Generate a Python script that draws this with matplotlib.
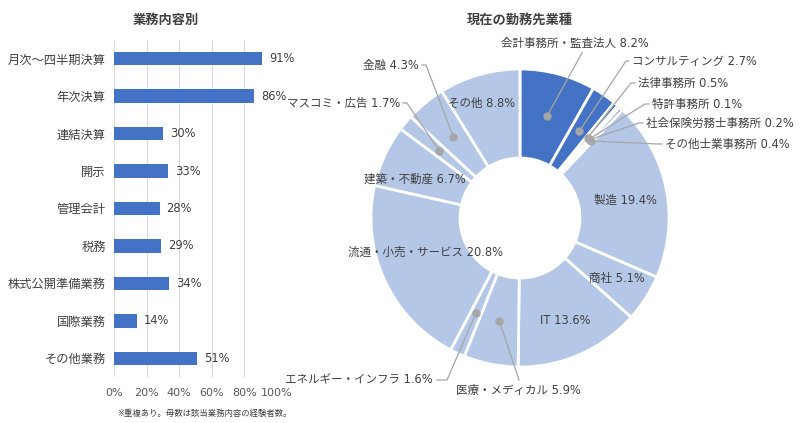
import matplotlib
matplotlib.use("Agg")
import matplotlib.pyplot as plt
import numpy as np

plt.rcParams['font.family'] = ['DejaVu Sans', 'Noto Sans CJK JP']

# ---- data ----
task_categories = ['月次～四半期決算', '年次決算', '連結決算', '開示', '管理会計', '税務',
                   '株式公開準備業務', '国際業務', 'その他業務']
task_values = [91, 86, 30, 33, 28, 29, 34, 14, 51]
x_ticks = [0, 20, 40, 60, 80, 100]
x_ticklabels = ['0%', '20%', '40%', '60%', '80%', '100%']

industry_names = ['会計事務所・監査法人', 'コンサルティング', '法律事務所', '特許事務所',
                  '社会保険労務士事務所', 'その他士業事務所', '製造', '商社', 'IT',
                  '医療・メディカル', 'エネルギー・インフラ', '流通・小売・サービス',
                  '建築・不動産', 'マスコミ・広告', '金融', 'その他']
industry_values = [8.2, 2.7, 0.5, 0.1, 0.2, 0.4, 19.4, 5.1, 13.6, 5.9, 1.6, 20.8,
                   6.7, 1.7, 4.3, 8.8]
industry_dark = [True] * 6 + [False] * 10

DARK = '#4472C4'
LIGHT = '#B4C7E7'
TXT = '#404040'
GREY = '#A6A6A6'
FS = 8.3

W, H = 800, 423
fig = plt.figure(figsize=(8, 4.23), dpi=100)

# ---- left: bar chart ----
ax = fig.add_axes([114 / W, 1 - 377 / H, 163 / W, 337 / H])
y = np.arange(len(task_categories))
ax.barh(y, task_values, height=0.36, color=DARK, zorder=3)
for yi, v in zip(y, task_values):
    ax.annotate(f'{v}%', (v, yi), xytext=(5, 0), textcoords='offset points',
                va='center', ha='left', fontsize=FS, color=TXT)
ax.set_ylim(len(task_categories) - 0.5, -0.5)
ax.set_xlim(0, 100)
ax.set_yticks(y)
ax.set_yticklabels(task_categories, fontsize=8.8, color=TXT)
ax.set_xticks(x_ticks)
ax.set_xticklabels(x_ticklabels, fontsize=8, color='#595959')
ax.tick_params(length=0, pad=8)
ax.tick_params(axis='y', pad=6)
ax.grid(axis='x', color='#D9D9D9', linewidth=0.8, zorder=0)
for s in ax.spines.values():
    s.set_visible(False)
fig.text(166 / W, 1 - 20 / H, '業務内容別', ha='center', va='center',
         fontsize=9.5, fontweight='bold', color=TXT)
fig.text(205 / W, 1 - 413 / H, '※重複あり。母数は該当業務内容の経験者数。', ha='center',
         va='center', fontsize=6, color=TXT)

# ---- right: donut ----
CX, CY, R = 520, 218, 150
ax2 = fig.add_axes([(CX - R) / W, 1 - (CY + R) / H, 2 * R / W, 2 * R / H])
colors = [DARK if d else LIGHT for d in industry_dark]
wedges, _ = ax2.pie(industry_values, startangle=90, counterclock=False, colors=colors,
                    radius=149 / R, wedgeprops=dict(width=89 / R, edgecolor='white',
                                                     linewidth=2))
ax2.set_xlim(-1, 1)
ax2.set_ylim(-1, 1)
ax2.set_aspect('auto')
ax2.axis('off')
fig.text(CX / W, 1 - 20 / H, '現在の勤務先業種', ha='center', va='center',
         fontsize=9.5, fontweight='bold', color=TXT)


def P(px, py):
    return ((px - CX) / R, (CY - py) / R)


def fmt(i):
    return f'{industry_names[i]} {industry_values[i]}%'


# inside labels (index: pixel position)
inside = {15: (482, 103), 6: (625, 200), 7: (617, 278), 8: (565, 320),
          11: (425, 252), 12: (415, 179)}
for i, (px, py) in inside.items():
    x0, y0 = P(px, py)
    ax2.text(x0, y0, fmt(i), ha='center', va='center', fontsize=FS, color=TXT)

# outside labels: index -> (text px, py, ha, path points in px after the dot)
outside = {
    0: ((575, 43), 'center', [(582, 53)]),
    1: ((632, 61), 'left', [(626, 61), (629, 61)]),
    2: ((638, 83), 'left', [(631, 83), (635, 83)]),
    3: ((652, 104), 'left', [(645, 104), (649, 104)]),
    4: ((646, 123), 'left', [(639, 123), (643, 123)]),
    5: ((665, 144), 'left', [(658, 144), (662, 144)]),
    14: ((419, 65), 'right', [(426, 65), (422, 65)]),
    13: ((400, 103), 'right', [(407, 103), (403, 103)]),
    10: ((433, 380), 'right', [(447, 380), (437, 380)]),
    9: ((518, 390), 'center', [(519, 380)]),
}
for i, ((px, py), ha, path) in outside.items():
    w = wedges[i]
    th = np.deg2rad((w.theta1 + w.theta2) / 2)
    dx, dy = 0.70 * np.cos(th), 0.70 * np.sin(th)
    xs = [dx] + [P(*p)[0] for p in path]
    ys = [dy] + [P(*p)[1] for p in path]
    ax2.plot(xs, ys, color=GREY, linewidth=0.9, clip_on=False, zorder=5)
    ax2.plot([dx], [dy], 'o', color=GREY, markersize=5, clip_on=False, zorder=6)
    x0, y0 = P(px, py)
    ax2.text(x0, y0, fmt(i), ha=ha, va='center', fontsize=FS, color=TXT,
             clip_on=False)

fig.savefig('out.png', dpi=100)
